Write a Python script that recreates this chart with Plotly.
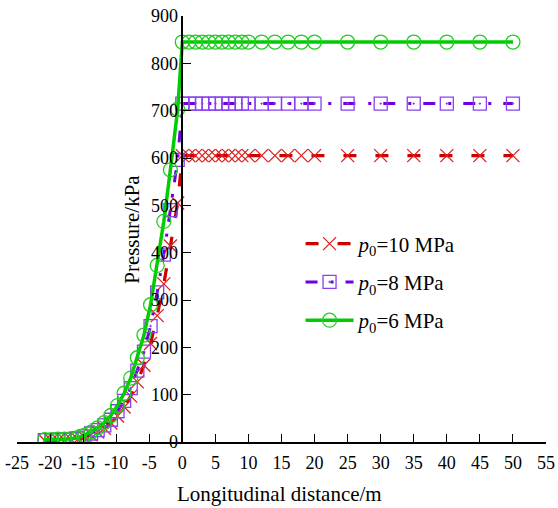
import plotly.graph_objects as go

# Longitudinal positions (m): rising front ahead of x=0, then the plateau behind it
x_front = [-20.8, -19.8, -18.8, -17.8, -16.8, -15.8, -14.8, -13.8, -12.8, -11.8,
           -10.8, -9.8, -8.8, -7.8, -6.8, -5.8, -4.8, -3.8, -2.8, -1.8, -0.7]
x_plateau = [0, 1, 2, 3, 4, 5, 6, 7, 8, 9, 10, 12, 14, 16, 18, 20,
             25, 30, 35, 40, 45, 50]

# Pressure (kPa) for each initial pressure p0
p10_front = [3, 3, 4, 4, 5, 6, 10, 15, 21, 29, 40, 55, 74, 97, 127, 162,
             208, 267, 334, 414, 505]
p10_plateau = [605] * len(x_plateau)

p8_front = [4, 4, 5, 5, 6, 8, 12, 18, 25, 35, 47, 65, 87, 114, 151, 191,
            245, 316, 396, 490, 596]
p8_plateau = [715] * len(x_plateau)

p6_front = [5, 5, 6, 6, 7, 9, 14, 21, 30, 41, 56, 77, 103, 135, 178, 226,
            290, 373, 466, 575, 703]
p6_plateau = [845] * len(x_plateau)

x_ticks = list(range(-25, 56, 5))
y_ticks = list(range(0, 901, 100))

FONT = "Liberation Serif"

series = [
    ("<i>p</i><sub>0</sub>=10 MPa", p10_front + p10_plateau,
     dict(color="#cc0000", width=3.2, dash="13px,19px"),
     dict(symbol="x-thin-open", size=13, color="#dd2222",
          line=dict(color="#dd2222", width=1.3))),
    ("<i>p</i><sub>0</sub>=8 MPa", p8_front + p8_plateau,
     dict(color="#6e00e0", width=3.0, dash="12px,13px,3px,12px"),
     dict(symbol="square-open-dot", size=13, color="#8a40ee",
          line=dict(color="#8a40ee", width=1.3))),
    ("<i>p</i><sub>0</sub>=6 MPa", p6_front + p6_plateau,
     dict(color="#00cc00", width=3.5, dash="solid"),
     dict(symbol="circle-open", size=14, color="#22cc22",
          line=dict(color="#22cc22", width=1.3))),
]

x_all = x_front + x_plateau

fig = go.Figure()
for i, (name, yvals, line, marker) in enumerate(series):
    fig.add_trace(go.Scatter(
        x=x_all, y=yvals, name=name, mode="lines+markers",
        line=line, marker=marker, legendgroup=f"g{i}",
    ))

axis_font = dict(family=FONT, size=18, color="black")

fig.update_layout(
    width=558, height=508,
    margin=dict(l=17, r=12, t=16, b=66),
    paper_bgcolor="white", plot_bgcolor="white",
    showlegend=True,
    legend=dict(
        x=0.536, y=0.513, xanchor="left", yanchor="top",
        bgcolor="rgba(0,0,0,0)", borderwidth=0,
        font=dict(family=FONT, size=21, color="black"),
        tracegroupgap=8, itemwidth=48,
    ),
    xaxis=dict(
        range=[-25, 55], tickvals=x_ticks, ticktext=[str(v) for v in x_ticks],
        ticks="inside", ticklen=8, tickwidth=1.3, tickcolor="black",
        showline=True, linecolor="black", linewidth=1.5,
        showgrid=False, zeroline=False, tickfont=axis_font,
        anchor="y", automargin=False, ticklabelstandoff=4,
    ),
    yaxis=dict(
        range=[0, 900], tickvals=y_ticks,
        ticks="inside", ticklen=8, tickwidth=1.3, tickcolor="black",
        showline=True, linecolor="black", linewidth=1.5,
        showgrid=False, zeroline=False, tickfont=axis_font,
        anchor="free", position=25 / 80, automargin=False,
    ),
    annotations=[
        dict(text="Longitudinal distance/m", xref="paper", yref="paper",
             x=0.496, y=-0.122, xanchor="center", yanchor="middle",
             showarrow=False, font=dict(family=FONT, size=21, color="black")),
        dict(text="Pressure/kPa", xref="paper", yref="paper",
             x=0.217, y=0.5, xanchor="center", yanchor="middle",
             textangle=-90, showarrow=False,
             font=dict(family=FONT, size=21, color="black")),
    ],
)

fig.write_html("out.html")
